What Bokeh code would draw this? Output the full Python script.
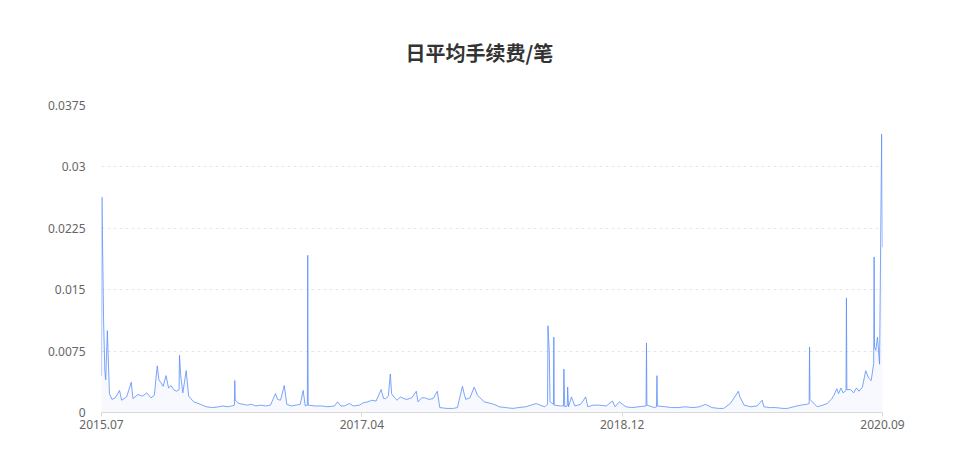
import pandas as pd
from bokeh.plotting import figure
from bokeh.models import (ColumnDataSource, Range1d, FixedTicker, DatetimeTickFormatter,
                          NumeralTickFormatter, Title)
from bokeh.embed import file_html
from bokeh.resources import INLINE

# values (daily average fee per transaction)
dates = [
    "2015-07-30", "2015-07-31", "2015-08-04", "2015-08-07", "2015-08-09", "2015-08-13", "2015-08-18",
    "2015-08-24", "2015-09-01", "2015-09-11", "2015-09-16", "2015-09-28", "2015-10-09", "2015-10-13",
    "2015-10-25", "2015-11-05", "2015-11-15", "2015-11-25", "2015-12-03", "2015-12-10", "2015-12-14",
    "2015-12-18", "2015-12-24", "2015-12-31", "2016-01-06", "2016-01-12", "2016-01-18", "2016-01-25",
    "2016-01-31", "2016-02-01", "2016-02-04", "2016-02-09", "2016-02-17", "2016-02-23", "2016-03-06",
    "2016-03-22", "2016-04-05", "2016-04-20", "2016-05-05", "2016-05-15", "2016-05-25", "2016-06-05",
    "2016-06-11", "2016-06-12", "2016-06-13", "2016-06-22", "2016-07-02", "2016-07-12", "2016-07-22",
    "2016-08-01", "2016-08-12", "2016-08-25", "2016-09-05", "2016-09-17", "2016-09-22", "2016-09-29",
    "2016-10-08", "2016-10-14", "2016-10-25", "2016-11-05", "2016-11-15", "2016-11-22", "2016-11-27",
    "2016-12-02", "2016-12-03", "2016-12-04", "2016-12-20", "2017-01-05", "2017-01-20", "2017-02-05",
    "2017-02-12", "2017-02-20", "2017-03-01", "2017-03-12", "2017-03-22", "2017-04-05", "2017-04-15",
    "2017-04-25", "2017-05-05", "2017-05-15", "2017-05-27", "2017-06-02", "2017-06-07", "2017-06-13",
    "2017-06-18", "2017-06-21", "2017-06-28", "2017-07-04", "2017-07-12", "2017-07-20", "2017-07-28",
    "2017-08-08", "2017-08-19", "2017-08-23", "2017-09-01", "2017-09-08", "2017-09-18", "2017-09-28",
    "2017-10-08", "2017-10-14", "2017-10-31", "2017-11-15", "2017-11-25", "2017-12-07", "2017-12-12",
    "2017-12-15", "2017-12-25", "2018-01-04", "2018-01-12", "2018-01-20", "2018-01-28", "2018-02-13",
    "2018-02-20", "2018-03-05", "2018-03-20", "2018-04-06", "2018-04-20", "2018-05-07", "2018-05-20",
    "2018-06-01", "2018-06-10", "2018-06-21", "2018-06-28", "2018-06-29", "2018-07-02", "2018-07-04",
    "2018-07-12", "2018-07-13", "2018-07-14", "2018-07-29", "2018-08-05", "2018-08-06", "2018-08-08",
    "2018-08-14", "2018-08-15", "2018-08-17", "2018-08-24", "2018-09-01", "2018-09-15", "2018-09-27",
    "2018-10-02", "2018-10-15", "2018-10-29", "2018-11-15", "2018-11-30", "2018-12-06", "2018-12-16",
    "2019-01-01", "2019-01-15", "2019-02-01", "2019-02-18", "2019-02-19", "2019-02-20", "2019-03-10",
    "2019-03-15", "2019-03-16", "2019-03-17", "2019-04-05", "2019-04-20", "2019-05-05", "2019-05-22",
    "2019-06-10", "2019-06-25", "2019-07-10", "2019-07-25", "2019-08-10", "2019-08-22", "2019-09-07",
    "2019-09-20", "2019-09-26", "2019-09-30", "2019-10-10", "2019-10-26", "2019-11-10", "2019-11-22",
    "2019-11-26", "2019-12-10", "2019-12-24", "2020-01-10", "2020-01-21", "2020-02-05", "2020-02-22",
    "2020-03-07", "2020-03-13", "2020-03-14", "2020-03-15", "2020-04-01", "2020-04-15", "2020-04-25",
    "2020-05-05", "2020-05-11", "2020-05-18", "2020-05-22", "2020-05-28", "2020-06-02", "2020-06-09",
    "2020-06-10", "2020-06-11", "2020-06-20", "2020-06-27", "2020-07-04", "2020-07-10", "2020-07-18",
    "2020-07-26", "2020-08-02", "2020-08-08", "2020-08-14", "2020-08-15", "2020-08-16", "2020-08-19",
    "2020-08-23", "2020-08-28", "2020-09-02", "2020-09-04",
]
fees = [
    0.0045, 0.0263, 0.0112, 0.0051, 0.0040, 0.0100, 0.0023,
    0.0016, 0.0018, 0.0027, 0.0015, 0.0019, 0.0037, 0.0017,
    0.0022, 0.0020, 0.0024, 0.0018, 0.0021, 0.0057, 0.0040,
    0.0037, 0.0032, 0.0045, 0.0030, 0.0033, 0.0028, 0.0026,
    0.0028, 0.0070, 0.0045, 0.0024, 0.0051, 0.0020, 0.0013,
    0.0010, 0.0007, 0.0006, 0.0007, 0.0008, 0.0007, 0.0008,
    0.0009, 0.0039, 0.0015, 0.0011, 0.0010, 0.0009, 0.0010,
    0.0008, 0.0009, 0.0008, 0.0009, 0.0023, 0.0016, 0.0015,
    0.0033, 0.0010, 0.0008, 0.0009, 0.0010, 0.0027, 0.0008,
    0.0009, 0.0192, 0.0009, 0.0008, 0.0008, 0.0007, 0.0008,
    0.0013, 0.0008, 0.0008, 0.0011, 0.0008, 0.0009, 0.0012,
    0.0013, 0.0015, 0.0014, 0.0028, 0.0017, 0.0017, 0.0020,
    0.0047, 0.0023, 0.0018, 0.0015, 0.0019, 0.0017, 0.0016,
    0.0018, 0.0026, 0.0013, 0.0018, 0.0018, 0.0016, 0.0017,
    0.0026, 0.0006, 0.0005, 0.0005, 0.0006, 0.0032, 0.0021,
    0.0016, 0.0018, 0.0031, 0.0021, 0.0017, 0.0013, 0.0011,
    0.0010, 0.0007, 0.0006, 0.0005, 0.0006, 0.0007, 0.0009,
    0.0011, 0.0009, 0.0007, 0.0010, 0.0106, 0.0076, 0.0013,
    0.0010, 0.0092, 0.0009, 0.0008, 0.0008, 0.0053, 0.0007,
    0.0008, 0.0031, 0.0007, 0.0019, 0.0008, 0.0010, 0.0019,
    0.0007, 0.0009, 0.0009, 0.0008, 0.0014, 0.0007, 0.0013,
    0.0007, 0.0006, 0.0007, 0.0008, 0.0085, 0.0009, 0.0006,
    0.0007, 0.0045, 0.0008, 0.0007, 0.0006, 0.0006, 0.0007,
    0.0006, 0.0007, 0.0010, 0.0006, 0.0005, 0.0005, 0.0011,
    0.0021, 0.0026, 0.0019, 0.0009, 0.0007, 0.0008, 0.0015,
    0.0007, 0.0006, 0.0006, 0.0005, 0.0005, 0.0007, 0.0009,
    0.0010, 0.0011, 0.0080, 0.0016, 0.0007, 0.0009, 0.0011,
    0.0016, 0.0021, 0.0029, 0.0023, 0.0030, 0.0024, 0.0027,
    0.0140, 0.0028, 0.0028, 0.0024, 0.0030, 0.0026, 0.0031,
    0.0051, 0.0042, 0.0039, 0.0060, 0.0190, 0.0080, 0.0076,
    0.0092, 0.0059, 0.0340, 0.0202,
]
tick_labels = ["2015.07", "2017.04", "2018.12", "2020.09"]
y_ticks = [0, 0.0075, 0.015, 0.0225, 0.03, 0.0375]

df = pd.DataFrame({"date": pd.to_datetime(dates), "fee": fees})
df["zero"] = 0.0
src = ColumnDataSource(df)

start, end = df["date"].iloc[0], df["date"].iloc[-1]
step = (end - start) / (len(tick_labels) - 1)
x_ticks = [(start + step * i).timestamp() * 1000 for i in range(len(tick_labels))]

LINE = "#5B8FF9"

p = figure(width=944, height=457, x_axis_type="datetime", output_backend="svg", toolbar_location=None,
           x_range=Range1d(start, end), y_range=Range1d(0, 0.0375),
           min_border_left=101, min_border_right=62, min_border_top=105, min_border_bottom=45)
p.outline_line_color = None

# title hung from the top of its box; standoff fills the gap down to the frame
title = Title(text="日平均手续费/笔", align="left", offset=304, standoff=73, vertical_align="top",
              text_font="Noto Sans CJK SC", text_font_size="20px", text_font_style="bold",
              text_color="#333333")
p.add_layout(title, "above")

p.varea(x="date", y1="zero", y2="fee", source=src, fill_color=LINE, fill_alpha=0.05)
p.line(x="date", y="fee", source=src, line_color=LINE, line_width=1, line_alpha=0.8)

p.xgrid.grid_line_color = None
p.ygrid.grid_line_color = "#e6e6e6"
p.ygrid.grid_line_dash = "3 3"
p.ygrid.ticker = FixedTicker(ticks=y_ticks)

p.yaxis.ticker = FixedTicker(ticks=y_ticks)
p.yaxis.formatter = NumeralTickFormatter(format="0.[0000]")
p.yaxis.axis_line_color = None
p.yaxis.major_tick_line_color = None
p.yaxis.minor_tick_line_color = None
p.yaxis.major_label_standoff = 10
p.yaxis.major_label_text_font = "Noto Sans"
p.yaxis.major_label_text_font_size = "12px"
p.yaxis.major_label_text_color = "#666666"

p.xaxis.ticker = FixedTicker(ticks=x_ticks)
p.xaxis.formatter = DatetimeTickFormatter(days="%Y.%m", months="%Y.%m", years="%Y.%m", hours="%Y.%m")
p.xaxis.major_label_overrides = {t: lab for t, lab in zip(x_ticks, tick_labels)}
p.xaxis.axis_line_color = "#d9d9d9"
p.xaxis.major_tick_line_color = "#d9d9d9"
p.xaxis.major_tick_in = 0
p.xaxis.major_tick_out = 4
p.xaxis.minor_tick_line_color = None
p.xaxis.major_label_standoff = 3
p.xaxis.major_label_text_font = "Noto Sans"
p.xaxis.major_label_text_font_size = "12px"
p.xaxis.major_label_text_color = "#666666"

open("out.html", "w").write(file_html(p, INLINE))
